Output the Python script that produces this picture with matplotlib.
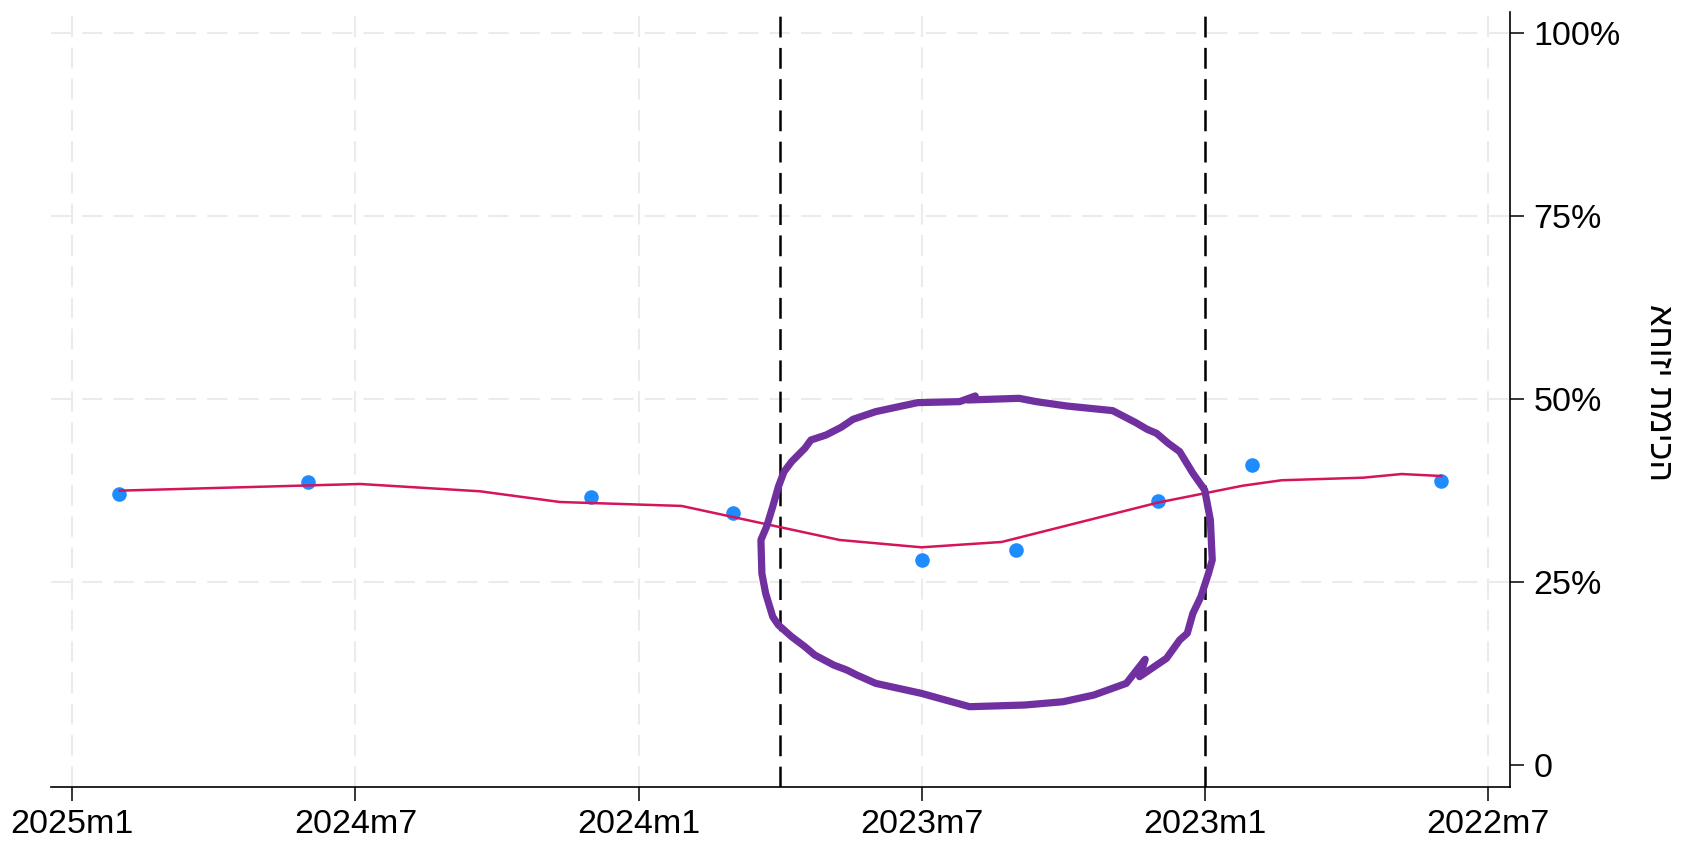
"""
Support share over time, reversed monthly axis (Stata-style monthly dates).
"""
import matplotlib
matplotlib.use("Agg")
import matplotlib.pyplot as plt

matplotlib.rcParams.update({
    "font.family": ["Liberation Sans", "DejaVu Sans"],
    "lines.scale_dashes": False,
})


def ym(year, month):
    # Stata monthly date: months since 1960m1
    return (year - 1960) * 12 + month - 1


# ── Data ───────────────────────────────────────────────────────
POLL_MONTHS = [ym(2024, 12), ym(2024, 8), ym(2024, 2), ym(2023, 11),
               ym(2023, 7), ym(2023, 5), ym(2023, 2), ym(2022, 12),
               ym(2022, 8)]
POLL_SUPPORT = [37.1, 38.7, 36.7, 34.5, 28.0, 29.4, 36.1, 41.1, 38.9]

# smoothed fit, x as fractional months before 2025m1
FIT_OFFSET = [1.01, 6.10, 8.64, 10.33, 12.91, 16.26, 17.99, 19.69,
              23.00, 24.80, 25.62, 27.35, 28.16, 29.00]
FIT_SUPPORT = [37.53, 38.44, 37.44, 35.98, 35.44, 30.79, 29.79, 30.52,
               35.90, 38.21, 38.95, 39.30, 39.80, 39.53]

# hand-drawn highlight, same units (months before 2025m1, percent)
CIRCLE_OFFSET = [19.13, 18.80, 17.91, 17.51, 17.02, 16.54, 16.29, 15.97,
                 15.65, 15.52, 15.24, 15.08, 14.96, 14.84, 14.71, 14.59,
                 14.61, 14.69, 14.84, 14.96, 15.24, 15.52, 15.73, 16.13,
                 16.41, 16.62, 17.02, 17.99, 19.01, 20.18, 20.99, 21.64,
                 22.33, 22.73, 22.61, 23.18, 23.46, 23.62, 23.74, 23.91,
                 24.07, 24.15, 24.11, 23.99, 23.74, 23.46, 23.22, 22.97,
                 22.77, 22.53, 22.04, 21.07, 20.42, 20.06, 18.97]
CIRCLE_SUPPORT = [50.46, 49.69, 49.55, 49.00, 48.32, 47.27, 46.18, 45.13,
                  44.45, 43.31, 41.49, 40.12, 38.07, 35.34, 32.61, 30.79,
                  26.23, 23.50, 20.31, 19.18, 17.58, 16.22, 15.08, 13.71,
                  13.03, 12.35, 11.21, 9.84, 8.02, 8.25, 8.70, 9.61,
                  11.21, 14.49, 12.12, 14.62, 17.13, 18.04, 20.77, 23.05,
                  26.23, 28.06, 33.52, 37.62, 39.90, 42.86, 43.99, 45.36,
                  45.91, 46.82, 48.46, 49.09, 49.69, 50.14, 49.91]

EVENT_MONTHS = [ym(2023, 10), ym(2023, 1)]

X_TICKS = [ym(2025, 1), ym(2024, 7), ym(2024, 1), ym(2023, 7),
           ym(2023, 1), ym(2022, 7)]
X_TICK_LABELS = ["2025m1", "2024m7", "2024m1", "2023m7", "2023m1", "2022m7"]
Y_TICKS = [0, 25, 50, 75, 100]
Y_TICK_LABELS = ["0", "25%", "50%", "75%", "100%"]
Y_LABEL = "אחוזי תמיכה"

BASE = ym(2025, 1)

fig = plt.figure(figsize=(16.88, 8.42), dpi=100)
ax = fig.add_axes([0.030, 0.0653, 0.8645, 0.9204])

# ── Grid ───────────────────────────────────────────────────────
for y in Y_TICKS[1:]:
    ax.axhline(y, color="#EBEBEB", lw=1.5, dashes=(14.5, 8), zorder=0)
for x in X_TICKS:
    ax.axvline(x, color="#EBEBEB", lw=1.5, dashes=(15, 7.5), zorder=0)

# ── Event markers ──────────────────────────────────────────────
for x in EVENT_MONTHS:
    ax.axvline(x, color="black", lw=1.8, dashes=(15, 7.5), zorder=1)

# ── Polls and fit ──────────────────────────────────────────────
ax.plot(POLL_MONTHS, POLL_SUPPORT, linestyle="none", marker="o",
        markersize=10.5, color="#1E8CFF", markeredgewidth=0, zorder=3)
ax.plot([BASE - m for m in FIT_OFFSET], FIT_SUPPORT,
        color="#D5145C", lw=1.8, zorder=4)

# ── Highlight ─────────────────────────────────────────────────
ax.plot([BASE - m for m in CIRCLE_OFFSET], CIRCLE_SUPPORT,
        color="#7030A0", lw=5.2, solid_joinstyle="round",
        solid_capstyle="round", zorder=5)

# ── Axes ───────────────────────────────────────────────────────
ax.set_xlim(BASE + 0.455, ym(2022, 7) - 0.455)
ax.set_ylim(-2.95, 102.9)

ax.set_xticks(X_TICKS)
ax.set_xticklabels(X_TICK_LABELS, fontsize=24.5)
ax.yaxis.tick_right()
ax.set_yticks(Y_TICKS)
ax.set_yticklabels(Y_TICK_LABELS, fontsize=24.5)
ax.tick_params(axis="both", length=10, width=1.1, color="black", pad=6)
ax.tick_params(axis="y", pad=7)

# ytitle on the right, rotated clockwise (same glyph order as the source)
fig.text(1659 / 1688, 1 - 392 / 842, Y_LABEL, fontsize=24.5,
         rotation=270, ha="center", va="center")

for side in ("top", "left"):
    ax.spines[side].set_visible(False)
for side in ("bottom", "right"):
    ax.spines[side].set_linewidth(1.2)

fig.savefig("out.png", dpi=100)
